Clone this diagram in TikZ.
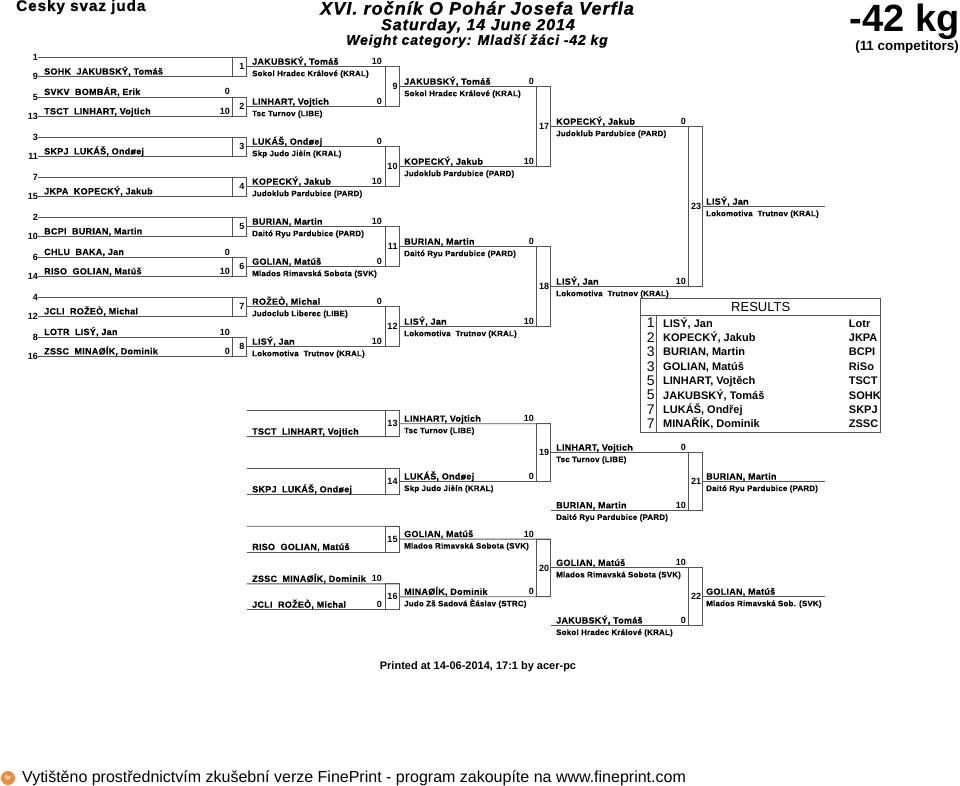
\documentclass[tikz,border=0pt]{standalone}
\usepackage{fontspec}
\setmainfont{Liberation Sans}
\newfontfamily\spaced[LetterSpace=3,BoldFeatures={FakeBold=0.3}]{Liberation Sans}
\newfontfamily\heavy[LetterSpace=6,BoldFeatures={FakeBold=1},BoldItalicFeatures={FakeBold=1}]{Liberation Sans}
\definecolor{linegray}{gray}{0.33}
\definecolor{fporange}{RGB}{236,140,60}

\begin{document}
\begin{tikzpicture}[x=1pt,y=-1pt]

\tikzset{
  match box/.style={
    draw=linegray,
    line width=0.9pt,
    text width=11pt,
    align=right,
    inner xsep=1.5pt,
    inner ysep=0pt,
    outer sep=0pt,
    minimum width=14pt,
    font=\bfseries\fontsize{9}{9}\selectfont,
  },
  seed label/.style={anchor=east, inner sep=0pt, font=\bfseries\fontsize{9}{9}\selectfont},
  name label/.style={anchor=base west, inner sep=0pt, font=\spaced\bfseries\fontsize{9}{9}\selectfont},
  club label/.style={anchor=base west, inner sep=0pt, font=\spaced\bfseries\fontsize{7.9}{8}\selectfont},
  score label/.style={anchor=base east, inner sep=0pt, font=\bfseries\fontsize{9}{9}\selectfont},
  link/.style={draw=linegray, line width=0.9pt},
  rank label/.style={inner sep=0pt, font=\fontsize{14}{14}\selectfont},
  result label/.style={anchor=base west, inner sep=0pt, font=\bfseries\fontsize{11}{11}\selectfont},
}

\useasboundingbox (0,0) rectangle (960,786);

% Headings
\node[anchor=west, inner sep=0pt, font=\heavy\bfseries\fontsize{15.3}{16}\selectfont] (federation) at (16,7) {Cesky svaz juda};
\node[inner sep=0pt, font=\heavy\bfseries\itshape\fontsize{18}{18}\selectfont] (event) at (477,8) {XVI. ročník O Pohár Josefa Verfla};
\node[inner sep=0pt, font=\heavy\bfseries\itshape\fontsize{16}{16}\selectfont] (date) at (478,26) {Saturday, 14 June 2014};
\node[inner sep=0pt, font=\heavy\bfseries\itshape\fontsize{14}{14}\selectfont] (category) at (477,41) {Weight category: Mladší žáci -42 kg};
\node[anchor=base east, inner sep=0pt, font=\bfseries\fontsize{38}{38}\selectfont] (weight) at (960,32) {-42 kg};
\node[anchor=base east, inner sep=0pt, font=\bfseries\fontsize{13.4}{13}\selectfont] (entries) at (959,50.5) {(11 competitors)};

% Round 1 boxes
\node[match box, minimum height=19.4pt] (m1) at (239,66.7) {1};
\node[match box, minimum height=19.4pt] (m2) at (239,106.7) {2};
\node[match box, minimum height=19.4pt] (m3) at (239,146.7) {3};
\node[match box, minimum height=19.4pt] (m4) at (239,186.7) {4};
\node[match box, minimum height=19.4pt] (m5) at (239,226.7) {5};
\node[match box, minimum height=19.4pt] (m6) at (239,266.7) {6};
\node[match box, minimum height=19.4pt] (m7) at (239,306.7) {7};
\node[match box, minimum height=19.4pt] (m8) at (239,346.7) {8};

% Round 2 boxes
\node[match box, minimum height=40pt] (m9) at (392,86.7) {9};
\node[match box, minimum height=40pt] (m10) at (392,166.7) {10};
\node[match box, minimum height=40pt] (m11) at (392,246.7) {11};
\node[match box, minimum height=40pt] (m12) at (392,326.7) {12};

% Repechage boxes
\node[match box, minimum height=25.8pt] (m13) at (392,423.7) {13};
\node[match box, minimum height=25.8pt] (m14) at (392,481.5) {14};
\node[match box, minimum height=25.8pt] (m15) at (392,539.1) {15};
\node[match box, minimum height=25.8pt] (m16) at (392,596.8) {16};

% Later rounds
\node[match box, minimum height=80pt] (m17) at (543.7,126.7) {17};
\node[match box, minimum height=80pt] (m18) at (543.7,286.7) {18};
\node[match box, minimum height=57.8pt] (m19) at (543.7,452.6) {19};
\node[match box, minimum height=57.7pt] (m20) at (543.7,567.9) {20};
\node[match box, minimum height=57.8pt] (m21) at (695.7,481.5) {21};
\node[match box, minimum height=57.6pt] (m22) at (695.7,596.7) {22};
\node[match box, minimum height=160pt] (m23) at (695.7,206.7) {23};

% Seeds
\node[seed label] (s1) at (38,57) {1};
\node[seed label] (s9) at (38,76.4) {9};
\node[seed label] (s5) at (38,97) {5};
\node[seed label] (s13) at (38,116.4) {13};
\node[seed label] (s3) at (38,137) {3};
\node[seed label] (s11) at (38,156.4) {11};
\node[seed label] (s7) at (38,177) {7};
\node[seed label] (s15) at (38,196.4) {15};
\node[seed label] (s2) at (38,217) {2};
\node[seed label] (s10) at (38,236.4) {10};
\node[seed label] (s6) at (38,257) {6};
\node[seed label] (s14) at (38,276.4) {14};
\node[seed label] (s4) at (38,297) {4};
\node[seed label] (s12) at (38,316.4) {12};
\node[seed label] (s8) at (38,337) {8};
\node[seed label] (s16) at (38,356.4) {16};

% Free line ends
\coordinate (f13a) at (246.7,410.8);
\coordinate (f13b) at (246.7,436.6);
\coordinate (f14a) at (246.7,468.6);
\coordinate (f14b) at (246.7,494.4);
\coordinate (f15a) at (246.7,526.2);
\coordinate (f15b) at (246.7,552);
\coordinate (f16a) at (246.7,583.9);
\coordinate (f16b) at (246.7,609.7);
\coordinate (f21) at (550.7,510.4);
\coordinate (f22) at (550.7,625.5);
\coordinate (e21) at (825,481.5);
\coordinate (e22) at (825,596.7);
\coordinate (e23) at (825,206.7);

% Round 1 lines
\draw[link] (s1.east) -- (m1.north east);
\draw[link] (s9.east) -- (m1.south east);
\draw[link] (s5.east) -- (m2.north east);
\draw[link] (s13.east) -- (m2.south east);
\draw[link] (s3.east) -- (m3.north east);
\draw[link] (s11.east) -- (m3.south east);
\draw[link] (s7.east) -- (m4.north east);
\draw[link] (s15.east) -- (m4.south east);
\draw[link] (s2.east) -- (m5.north east);
\draw[link] (s10.east) -- (m5.south east);
\draw[link] (s6.east) -- (m6.north east);
\draw[link] (s14.east) -- (m6.south east);
\draw[link] (s4.east) -- (m7.north east);
\draw[link] (s12.east) -- (m7.south east);
\draw[link] (s8.east) -- (m8.north east);
\draw[link] (s16.east) -- (m8.south east);

% Round 2 lines
\draw[link] (m1.east) -- (m9.north east);
\draw[link] (m2.east) -- (m9.south east);
\draw[link] (m3.east) -- (m10.north east);
\draw[link] (m4.east) -- (m10.south east);
\draw[link] (m5.east) -- (m11.north east);
\draw[link] (m6.east) -- (m11.south east);
\draw[link] (m7.east) -- (m12.north east);
\draw[link] (m8.east) -- (m12.south east);

% Repechage lines
\draw[link] (f13a) -- (m13.north east);
\draw[link] (f13b) -- (m13.south east);
\draw[link] (f14a) -- (m14.north east);
\draw[link] (f14b) -- (m14.south east);
\draw[link] (f15a) -- (m15.north east);
\draw[link] (f15b) -- (m15.south east);
\draw[link] (f16a) -- (m16.north east);
\draw[link] (f16b) -- (m16.south east);

% Later lines
\draw[link] (m9.east) -- (m17.north east);
\draw[link] (m10.east) -- (m17.south east);
\draw[link] (m11.east) -- (m18.north east);
\draw[link] (m12.east) -- (m18.south east);
\draw[link] (m13.east) -- (m19.north east);
\draw[link] (m14.east) -- (m19.south east);
\draw[link] (m15.east) -- (m20.north east);
\draw[link] (m16.east) -- (m20.south east);
\draw[link] (m17.east) -- (m23.north east);
\draw[link] (m18.east) -- (m23.south east);
\draw[link] (m19.east) -- (m21.north east);
\draw[link] (f21) -- (m21.south east);
\draw[link] (m20.east) -- (m22.north east);
\draw[link] (f22) -- (m22.south east);
\draw[link] (m21.east) -- (e21);
\draw[link] (m22.east) -- (e22);
\draw[link] (m23.east) -- (e23);

% Round 1 entrants
\node[name label] (a1) at (44,74.6) {SOHK\ \ JAKUBSKÝ, Tomáš};
\node[name label] (a2) at (44,95) {SVKV\ \ BOMBÁR, Erik};
\node[score label] (p2) at (230,95) {0};
\node[name label] (a3) at (44,114.4) {TSCT\ \ LINHART, Vojtich};
\node[score label] (p3) at (230,114.4) {10};
\node[name label] (a4) at (44,154.4) {SKPJ\ \ LUKÁŠ, Ondøej};
\node[name label] (a5) at (44,194.4) {JKPA\ \ KOPECKÝ, Jakub};
\node[name label] (a6) at (44,234.4) {BCPI\ \ BURIAN, Martin};
\node[name label] (a7) at (44,255) {CHLU\ \ BAKA, Jan};
\node[score label] (p7) at (230,255) {0};
\node[name label] (a8) at (44,274.4) {RISO\ \ GOLIAN, Matúš};
\node[score label] (p8) at (230,274.4) {10};
\node[name label] (a9) at (44,314.4) {JCLI\ \ ROŽEÒ, Michal};
\node[name label] (a10) at (44,335) {LOTR\ \ LISÝ, Jan};
\node[score label] (p10) at (230,335) {10};
\node[name label] (a11) at (44,354.4) {ZSSC\ \ MINAØÍK, Dominik};
\node[score label] (p11) at (230,354.4) {0};

% Round 1 winners
\node[name label] (b1) at (252,64.7) {JAKUBSKÝ, Tomáš};
\node[club label] (d1) at (252,76.2) {Sokol Hradec Králové (KRAL)};
\node[score label] (q1) at (382,64.7) {10};
\node[name label] (b2) at (252,104.7) {LINHART, Vojtich};
\node[club label] (d2) at (252,116.2) {Tsc Turnov (LIBE)};
\node[score label] (q2) at (382,104.7) {0};
\node[name label] (b3) at (252,144.7) {LUKÁŠ, Ondøej};
\node[club label] (d3) at (252,156.2) {Skp Judo Jièín (KRAL)};
\node[score label] (q3) at (382,144.7) {0};
\node[name label] (b4) at (252,184.7) {KOPECKÝ, Jakub};
\node[club label] (d4) at (252,196.2) {Judoklub Pardubice (PARD)};
\node[score label] (q4) at (382,184.7) {10};
\node[name label] (b5) at (252,224.7) {BURIAN, Martin};
\node[club label] (d5) at (252,236.2) {Daitó Ryu Pardubice (PARD)};
\node[score label] (q5) at (382,224.7) {10};
\node[name label] (b6) at (252,264.7) {GOLIAN, Matúš};
\node[club label] (d6) at (252,276.2) {Mlados Rimavská Sobota (SVK)};
\node[score label] (q6) at (382,264.7) {0};
\node[name label] (b7) at (252,304.7) {ROŽEÒ, Michal};
\node[club label] (d7) at (252,316.2) {Judoclub Liberec (LIBE)};
\node[score label] (q7) at (382,304.7) {0};
\node[name label] (b8) at (252,344.7) {LISÝ, Jan};
\node[club label] (d8) at (252,356.2) {Lokomotiva\ \ Trutnov (KRAL)};
\node[score label] (q8) at (382,344.7) {10};

% Repechage entrants
\node[name label] (b9) at (252,434.6) {TSCT\ \ LINHART, Vojtich};
\node[name label] (b10) at (252,492.4) {SKPJ\ \ LUKÁŠ, Ondøej};
\node[name label] (b11) at (252,550) {RISO\ \ GOLIAN, Matúš};
\node[name label] (b12) at (252,581.9) {ZSSC\ \ MINAØÍK, Dominik};
\node[score label] (q12) at (382,581.9) {10};
\node[name label] (b13) at (252,607.7) {JCLI\ \ ROŽEÒ, Michal};
\node[score label] (q13) at (382,607.7) {0};

% Round 2 winners
\node[name label] (c1) at (404,84.7) {JAKUBSKÝ, Tomáš};
\node[club label] (g1) at (404,96.2) {Sokol Hradec Králové (KRAL)};
\node[score label] (r1) at (534,84.7) {0};
\node[name label] (c2) at (404,164.7) {KOPECKÝ, Jakub};
\node[club label] (g2) at (404,176.2) {Judoklub Pardubice (PARD)};
\node[score label] (r2) at (534,164.7) {10};
\node[name label] (c3) at (404,244.7) {BURIAN, Martin};
\node[club label] (g3) at (404,256.2) {Daitó Ryu Pardubice (PARD)};
\node[score label] (r3) at (534,244.7) {0};
\node[name label] (c4) at (404,324.7) {LISÝ, Jan};
\node[club label] (g4) at (404,336.2) {Lokomotiva\ \ Trutnov (KRAL)};
\node[score label] (r4) at (534,324.7) {10};
\node[name label] (c5) at (404,421.7) {LINHART, Vojtich};
\node[club label] (g5) at (404,433.2) {Tsc Turnov (LIBE)};
\node[score label] (r5) at (534,421.7) {10};
\node[name label] (c6) at (404,479.5) {LUKÁŠ, Ondøej};
\node[club label] (g6) at (404,491) {Skp Judo Jièín (KRAL)};
\node[score label] (r6) at (534,479.5) {0};
\node[name label] (c7) at (404,537.1) {GOLIAN, Matúš};
\node[club label] (g7) at (404,548.6) {Mlados Rimavská Sobota (SVK)};
\node[score label] (r7) at (534,537.1) {10};
\node[name label] (c8) at (404,594.8) {MINAØÍK, Dominik};
\node[club label] (g8) at (404,606.3) {Judo Zš Sadová Èáslav (STRC)};
\node[score label] (r8) at (534,594.8) {0};

% Semi-final column
\node[name label] (h1) at (556,124.7) {KOPECKÝ, Jakub};
\node[club label] (k1) at (556,136.2) {Judoklub Pardubice (PARD)};
\node[score label] (t1) at (686,124.7) {0};
\node[name label] (h2) at (556,284.7) {LISÝ, Jan};
\node[club label] (k2) at (556,296.2) {Lokomotiva\ \ Trutnov (KRAL)};
\node[score label] (t2) at (686,284.7) {10};
\node[name label] (h3) at (556,450.6) {LINHART, Vojtich};
\node[club label] (k3) at (556,462.1) {Tsc Turnov (LIBE)};
\node[score label] (t3) at (686,450.6) {0};
\node[name label] (h4) at (556,508.4) {BURIAN, Martin};
\node[club label] (k4) at (556,519.9) {Daitó Ryu Pardubice (PARD)};
\node[score label] (t4) at (686,508.4) {10};
\node[name label] (h5) at (556,565.9) {GOLIAN, Matúš};
\node[club label] (k5) at (556,577.4) {Mlados Rimavská Sobota (SVK)};
\node[score label] (t5) at (686,565.9) {10};
\node[name label] (h6) at (556,623.5) {JAKUBSKÝ, Tomáš};
\node[club label] (k6) at (556,635) {Sokol Hradec Králové (KRAL)};
\node[score label] (t6) at (686,623.5) {0};

% Final column
\node[name label] (w1) at (706,204.7) {LISÝ, Jan};
\node[club label] (z1) at (706,216.2) {Lokomotiva\ \ Trutnov (KRAL)};
\node[name label] (w2) at (706,479.5) {BURIAN, Martin};
\node[club label] (z2) at (706,491) {Daitó Ryu Pardubice (PARD)};
\node[name label] (w3) at (706,594.7) {GOLIAN, Matúš};
\node[club label] (z3) at (706,606.2) {Mlados Rimavská Sob. (SVK)};

% Results table
\node[draw=linegray, line width=0.9pt, outer sep=0pt, inner sep=0pt, minimum width=240pt, minimum height=133.5pt] (table) at (760.7,365.4) {};
\node[draw=linegray, line width=0.9pt, outer sep=0pt, inner sep=0pt, minimum width=240pt, minimum height=16.4pt, font=\fontsize{13}{13}\selectfont] (results) at (760.7,306.9) {RESULTS};
\coordinate (rule) at (656.3,432.2);
\draw[link] (rule |- results.south) -- (rule);

\node[rank label] (r1n) at (650.7,323) {1};
\node[rank label] (r2n) at (650.7,337.5) {2};
\node[rank label] (r3n) at (650.7,352) {3};
\node[rank label] (r4n) at (650.7,366.3) {3};
\node[rank label] (r5n) at (650.7,380.7) {5};
\node[rank label] (r6n) at (650.7,395.2) {5};
\node[rank label] (r7n) at (650.7,409.5) {7};
\node[rank label] (r8n) at (650.7,424) {7};

\node[result label] (r1a) at (663,327) {LISÝ, Jan};
\node[result label] (r2a) at (663,341.4) {KOPECKÝ, Jakub};
\node[result label] (r3a) at (663,355.8) {BURIAN, Martin};
\node[result label] (r4a) at (663,370.2) {GOLIAN, Matúš};
\node[result label] (r5a) at (663,384.6) {LINHART, Vojtěch};
\node[result label] (r6a) at (663,399) {JAKUBSKÝ, Tomáš};
\node[result label] (r7a) at (663,413.4) {LUKÁŠ, Ondřej};
\node[result label] (r8a) at (663,427.8) {MINAŘÍK, Dominik};

\node[result label] (r1b) at (848.7,327) {Lotr};
\node[result label] (r2b) at (848.7,341.4) {JKPA};
\node[result label] (r3b) at (848.7,355.8) {BCPI};
\node[result label] (r4b) at (848.7,370.2) {RiSo};
\node[result label] (r5b) at (848.7,384.6) {TSCT};
\node[result label] (r6b) at (848.7,399) {SOHK};
\node[result label] (r7b) at (848.7,413.4) {SKPJ};
\node[result label] (r8b) at (848.7,427.8) {ZSSC};

% Footer
\node[inner sep=0pt, font=\bfseries\fontsize{11}{11}\selectfont] (printed) at (478,667) {Printed at 14-06-2014, 17:1 by acer-pc};
\node[circle, fill=fporange, minimum size=14pt, inner sep=0pt, text=white, font=\bfseries\fontsize{6}{6}\selectfont] (logo) at (8,778) {fp};
\node[anchor=west, inner sep=0pt, font=\fontsize{16}{16}\selectfont] (trial) at (22,778) {Vytištěno prostřednictvím zkušební verze FinePrint - program zakoupíte na www.fineprint.com};

\end{tikzpicture}
\end{document}
